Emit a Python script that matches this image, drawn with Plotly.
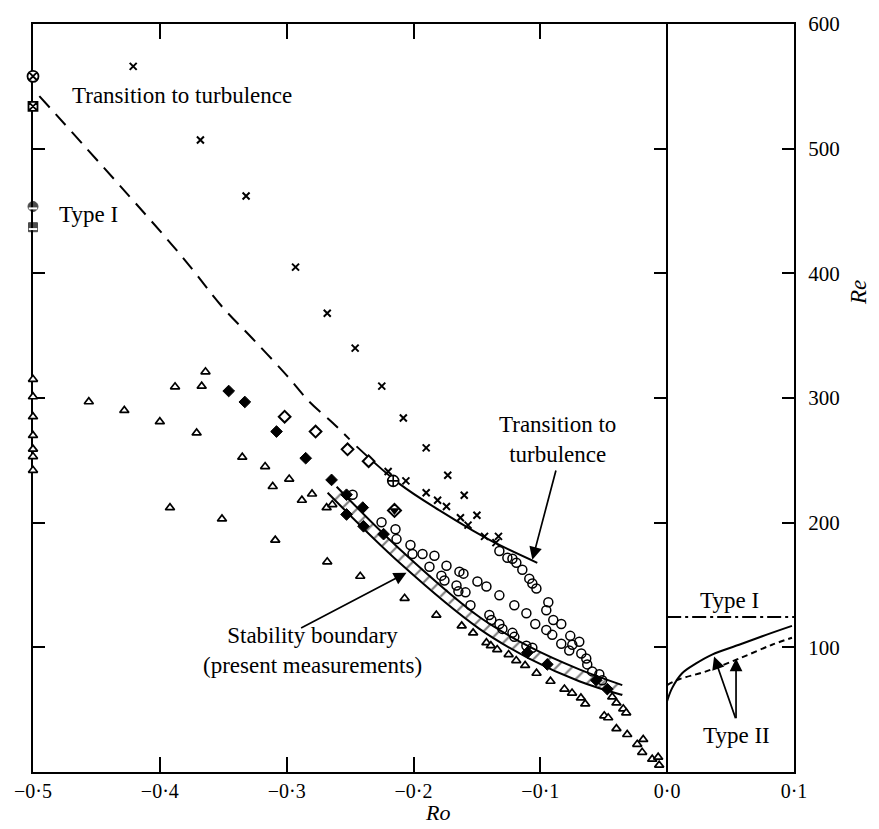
import plotly.graph_objects as go

# ---------------- data ----------------
# transition to turbulence (crosses)
cross_ro = [-0.421, -0.368, -0.332, -0.293, -0.268, -0.246, -0.225, -0.208, -0.190, -0.173,
            -0.220, -0.206, -0.190, -0.181, -0.174, -0.160, -0.163, -0.157, -0.150, -0.144,
            -0.133, -0.135]
cross_re = [566, 507, 462, 405, 368, 340, 309.5, 284, 260, 238,
            241, 233.5, 224, 218, 213, 222, 204, 198, 206, 189,
            189, 184]

# open triangles on the Ro = -0.5 edge
tri_edge_re = [315, 301, 285, 270, 259, 253, 242]

# open triangles
tri_ro = [-0.456, -0.428, -0.400, -0.371, -0.388, -0.367, -0.364, -0.335, -0.317, -0.298,
          -0.311, -0.392, -0.351, -0.280, -0.288, -0.2685, -0.264, -0.309, -0.268, -0.242,
          -0.207, -0.182, -0.162, -0.153, -0.1425, -0.139, -0.134, -0.125, -0.119, -0.112,
          -0.103, -0.092, -0.081, -0.075, -0.068, -0.0646, -0.0496, -0.0465, -0.040, -0.0315,
          -0.0433, -0.040, -0.0346, -0.0323, -0.0236, -0.0189, -0.0197, -0.0118, -0.0071, -0.0063]
tri_re = [297, 290, 281, 272, 309, 309.5, 321, 252.5, 245, 235,
          229, 212, 203, 223, 218, 212, 214.5, 186, 168.6, 157,
          139.3, 125.9, 117.2, 111.6, 103.7, 101.3, 98.2, 94.2, 89.4, 85.5,
          79.2, 72.8, 66.5, 63.3, 59.4, 54.6, 45.1, 43.5, 34.8, 30.1,
          60.2, 55.4, 50.7, 47.5, 22.2, 26.1, 15.8, 10.3, 11.9, 5.5]

# filled diamonds
fdia_ro = [-0.3457, -0.333, -0.308, -0.285, -0.2646, -0.2528, -0.240, -0.2528, -0.2394, -0.2236,
           -0.1102, -0.0945, -0.0559, -0.0472]
fdia_re = [305.6, 296.8, 273.1, 251.7, 234.3, 222.4, 212.1, 206.6, 197.1, 190.8,
           95.8, 86.3, 73.6, 66.5]

# open diamonds
odia_ro = [-0.3016, -0.2772, -0.252, -0.2354]
odia_re = [285, 273.1, 258.8, 249.3]

# open circles
circ_ro = [-0.248, -0.2252, -0.2142, -0.2134, -0.2024, -0.2008, -0.1929, -0.1835, -0.1874, -0.174,
           -0.178, -0.1756, -0.1638, -0.1606, -0.1661, -0.1646, -0.159, -0.1551, -0.1496, -0.1425,
           -0.1323, -0.1205, -0.111, -0.104, -0.0937, -0.0953, -0.0898, -0.0835, -0.0953, -0.0906,
           -0.0835, -0.0764, -0.0693, -0.0748, -0.0772, -0.0677, -0.0638, -0.063, -0.0591, -0.0535,
           -0.0512, -0.1402, -0.1386, -0.1323, -0.1299, -0.122, -0.1205, -0.111, -0.1063, -0.1323,
           -0.126, -0.122, -0.1189, -0.1142, -0.1087, -0.1063, -0.1031]
circ_re = [222.4, 200.3, 194.7, 186.8, 182.1, 174.9, 174.9, 173.4, 164.6, 165.4,
           157.5, 153.6, 160.7, 159.1, 149.6, 144.9, 144.1, 133.8, 152.8, 148.8,
           141.7, 133.8, 127.4, 118.7, 136.2, 129.8, 121.9, 118.7, 114.0, 110.0,
           102.9, 109.2, 104.5, 102.1, 97.4, 95.0, 91.0, 86.3, 80.7, 78.4,
           73.6, 125.9, 121.9, 118.7, 114.8, 111.6, 108.4, 101.3, 99.7, 177.3,
           171.8, 171.0, 167.8, 162.3, 155.1, 151.2, 147.2]

# single special symbols
half_dia = (-0.215, 209.8)
circ_plus = (-0.216, 233.5)
edge_circ_x = 558
edge_sq_x = 534
edge_half_circ = 453.6
edge_half_sq = 437

# Type I (dashed) onset curve
type1_ro = [-0.495, -0.3843, -0.3512, -0.3268, -0.300, -0.2819, -0.2638, -0.2504]
type1_re = [542.2, 415.6, 373.6, 347.5, 318.2, 296.8, 280.2, 266.8]

# transition to turbulence curve
trans_ro = [-0.2449, -0.211, -0.1795, -0.1535, -0.1323, -0.1024]
trans_re = [261.2, 231.1, 209.8, 193.9, 182.1, 167.8]

# stability boundary band (present measurements)
band_up_ro = [-0.2606, -0.211, -0.148, -0.1087, -0.0693, -0.0354]
band_up_re = [228.8, 178.9, 124.3, 100.5, 82.3, 69.7]
band_lo_ro = [-0.2677, -0.211, -0.148, -0.1087, -0.0693, -0.0354]
band_lo_re = [224.0, 167.8, 114.8, 91.0, 72.8, 61.7]

# positive Ro: Type I level and Type II curves
type1_pos_ro = [0.0, 0.1]
type1_pos_re = [124.3, 124.3]
type2a_ro = [0.0, 0.0039, 0.0118, 0.0228, 0.0354, 0.0567, 0.078, 0.0984]
type2a_re = [57.0, 67.3, 79.2, 87.1, 94.2, 102.1, 110.0, 117.2]
type2b_ro = [0.0, 0.0094, 0.0307, 0.0567, 0.0827, 0.0984]
type2b_re = [69.7, 74.4, 80.7, 91.0, 102.1, 107.7]

# axis ticks
ro_ticks = [-0.5, -0.4, -0.3, -0.2, -0.1, 0.0, 0.1]
ro_labels = ["\u22120\u00b75", "\u22120\u00b74", "\u22120\u00b73", "\u22120\u00b72",
             "\u22120\u00b71", "0\u00b70", "0\u00b71"]
re_ticks = [0, 100, 200, 300, 400, 500, 600]
re_labels = ["", "100", "200", "300", "400", "500", "600"]

RO_MIN, RO_MAX = -0.5, 0.1
RE_MIN, RE_MAX = 0, 600

FONT = "Liberation Serif"
K = "black"

fig = go.Figure()


def add(**kw):
    kw.setdefault("cliponaxis", False)
    kw.setdefault("hoverinfo", "skip")
    fig.add_trace(go.Scatter(**kw))


# white breaks in the left frame behind the edge symbols
edge_groups = [[edge_circ_x, edge_sq_x], [edge_half_circ, edge_half_sq], tri_edge_re]
for grp in edge_groups:
    add(x=[RO_MIN, RO_MIN], y=[min(grp) - 9, max(grp) + 11], mode="lines",
        line=dict(color="white", width=5))

# stability band with hatching
band_x = band_up_ro + band_lo_ro[::-1]
band_y = band_up_re + band_lo_re[::-1]
add(x=band_x, y=band_y, mode="none", fill="toself", fillcolor="white",
    fillpattern=dict(shape="/", size=11, solidity=0.2, fgcolor=K, bgcolor="white"))
add(x=band_up_ro, y=band_up_re, mode="lines", line=dict(color=K, width=2, shape="spline"))
add(x=band_lo_ro, y=band_lo_re, mode="lines", line=dict(color=K, width=2, shape="spline"))

# curves
add(x=type1_ro, y=type1_re, mode="lines",
    line=dict(color=K, width=2, dash="15px,9px", shape="spline"))
add(x=trans_ro, y=trans_re, mode="lines", line=dict(color=K, width=2, shape="spline"))
add(x=type1_pos_ro, y=type1_pos_re, mode="lines", yaxis="y2",
    line=dict(color=K, width=2, dash="14px,4px,3px,4px"))
add(x=type2a_ro, y=type2a_re, mode="lines", line=dict(color=K, width=2, shape="spline"))
add(x=type2b_ro, y=type2b_re, mode="lines",
    line=dict(color=K, width=2, dash="6px,4px", shape="spline"))

# symbols
add(x=tri_ro, y=tri_re, mode="markers",
    marker=dict(symbol="triangle-up", size=8, color="white", line=dict(color=K, width=1.7)))
add(x=[RO_MIN] * len(tri_edge_re), y=tri_edge_re, mode="markers",
    marker=dict(symbol="triangle-up", size=8, color="white", line=dict(color=K, width=1.7)))
add(x=circ_ro, y=circ_re, mode="markers",
    marker=dict(symbol="circle-open", size=9, color=K, line=dict(color=K, width=1.5)))
add(x=cross_ro, y=cross_re, mode="markers",
    marker=dict(symbol="x-thin", size=7, color=K, line=dict(color=K, width=2)))
add(x=odia_ro, y=odia_re, mode="markers",
    marker=dict(symbol="diamond", size=9, color="white", line=dict(color=K, width=2)))
add(x=fdia_ro, y=fdia_re, mode="markers",
    marker=dict(symbol="diamond", size=9, color=K, line=dict(color=K, width=1)))
add(x=[half_dia[0]], y=[half_dia[1]], mode="markers",
    marker=dict(symbol="diamond", size=10, color="white", line=dict(color=K, width=2)))
add(x=[half_dia[0]], y=[half_dia[1]], mode="markers",
    marker=dict(symbol="triangle-down", size=9, color=K, line=dict(width=0)))
add(x=[circ_plus[0]], y=[circ_plus[1]], mode="markers",
    marker=dict(symbol="circle-cross", size=11, color="white", line=dict(color=K, width=1.6)))
add(x=[RO_MIN], y=[edge_circ_x], mode="markers",
    marker=dict(symbol="circle-x", size=11, color="white", line=dict(color=K, width=1.8)))
add(x=[RO_MIN], y=[edge_sq_x], mode="markers",
    marker=dict(symbol="square-x", size=9, color="white", line=dict(color=K, width=1.8)))
add(x=[RO_MIN, RO_MIN], y=[edge_half_circ, edge_half_sq], mode="markers",
    marker=dict(symbol=["circle", "square"], size=[10, 9], color=K, line=dict(color=K, width=1)))
add(x=[RO_MIN, RO_MIN], y=[edge_half_circ - 1.5, edge_half_sq - 1.5], mode="markers",
    marker=dict(symbol="line-ew", size=6, line=dict(color="white", width=2)))

# labels
def label(text, x, y, size=23, **kw):
    fig.add_annotation(text=text, x=x, y=y, showarrow=False,
                       font=dict(family=FONT, size=size, color=K), **kw)


label("Transition to turbulence", -0.3827, 543)
label("Type I", -0.456, 447)
label("Transition to<br>turbulence", -0.0866, 266.4)
label("Stability boundary<br>(present measurements)", -0.2795, 97.4)
label("Type I", 0.0488, 137.7)
label("Type II", 0.0543, 29.3)

# arrows: (tail_ro, tail_re, head_ro, head_re)
arrows = [
    (-0.0874, 243.0, -0.1063, 170.2),
    (-0.2898, 114.8, -0.2055, 159.9),
    (0.0543, 42.0, 0.037, 92.6),
    (0.0543, 42.0, 0.0543, 91.0),
]
for tx, ty, hx, hy in arrows:
    fig.add_annotation(x=hx, y=hy, ax=tx, ay=ty, xref="x", yref="y", axref="x", ayref="y",
                       text="", showarrow=True, arrowhead=2, arrowsize=1.5, arrowwidth=1.7,
                       arrowcolor=K, standoff=0)

# axis titles
fig.add_annotation(text="<i>Ro</i>", x=-0.181, y=-0.054, xref="x", yref="paper",
                   xanchor="center", yanchor="middle",
                   showarrow=False, font=dict(family=FONT, size=22, color=K))
fig.add_annotation(text="<i>Re</i>", x=1.084, y=385, xref="paper", yref="y",
                   xanchor="center", yanchor="middle",
                   showarrow=False, textangle=-90, font=dict(family=FONT, size=23, color=K))

fig.update_layout(
    width=879, height=829,
    margin=dict(l=33, r=85, t=14, b=57),
    plot_bgcolor="white", paper_bgcolor="white",
    showlegend=False,
    font=dict(family=FONT, color=K, size=20),
    xaxis=dict(range=[RO_MIN, RO_MAX], tickvals=ro_ticks, ticktext=ro_labels,
               ticks="inside", ticklen=15, tickwidth=2, tickcolor=K,
               showline=True, linewidth=2, linecolor=K, mirror="ticks",
               showgrid=False, zeroline=False, ticklabelstandoff=0,
               tickfont=dict(family=FONT, size=20, color=K), layer="below traces"),
    yaxis=dict(range=[RE_MIN, RE_MAX], tickvals=re_ticks, ticktext=re_labels, side="right",
               ticks="inside", ticklen=12, tickwidth=2, tickcolor=K,
               showline=True, linewidth=2, linecolor=K, mirror="ticks",
               showgrid=False, zeroline=False, ticklabelstandoff=8,
               tickfont=dict(family=FONT, size=21, color=K), layer="below traces"),
    yaxis2=dict(overlaying="y", anchor="free",
                position=(0.0 - RO_MIN) / (RO_MAX - RO_MIN), side="left",
                range=[RE_MIN, RE_MAX], tickvals=re_ticks[1:-1], ticks="outside",
                ticklen=12, tickwidth=2, tickcolor=K, showticklabels=False,
                showline=True, linewidth=2, linecolor=K, showgrid=False, zeroline=False),
)

fig.write_html("out.html")
